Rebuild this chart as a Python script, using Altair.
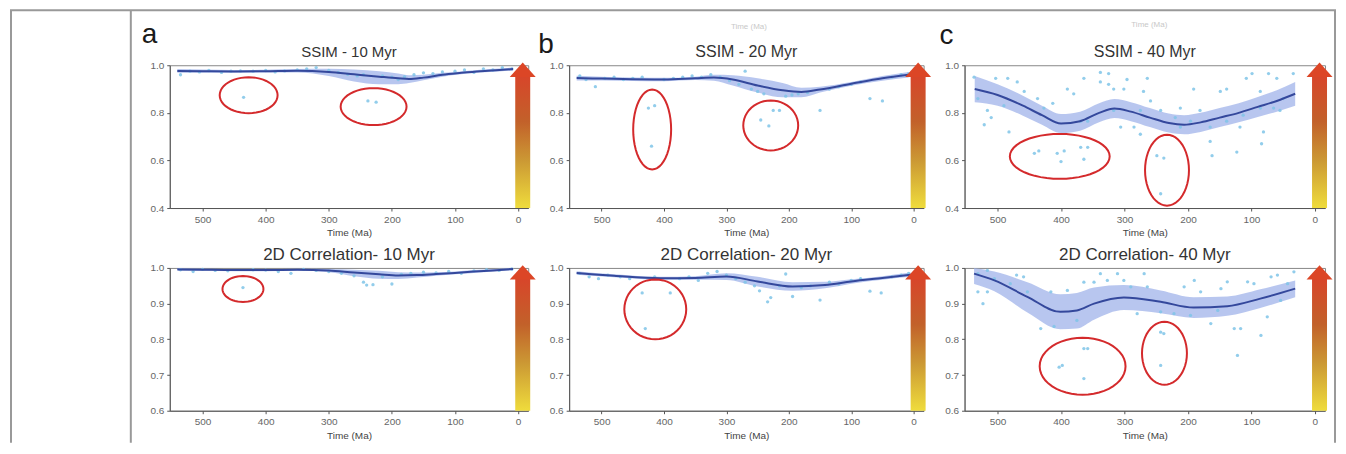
import math
import altair as alt
import pandas as pd

FONT = "Liberation Sans"
PT_COLOR = "#7fc4e8"
LINE_COLOR = "#34489c"
BAND_COLOR = "#9aaee8"
RED = "#d42a2c"

# ---------------- data ----------------
titles = ["SSIM - 10 Myr", "SSIM - 20 Myr", "SSIM - 40 Myr",
          "2D Correlation- 10 Myr", "2D Correlation- 20 Myr", "2D Correlation- 40 Myr"]
letters = ["a", "b", "c"]
x_ticks = [500, 400, 300, 200, 100, 0]
y_ticks_top = [0.4, 0.6, 0.8, 1.0]
y_ticks_bot = [0.6, 0.7, 0.8, 0.9, 1.0]

# panel a, SSIM 10 Myr
a1_t = [535, 520, 505, 490, 470, 455, 440, 435, 420, 400, 385, 370, 350, 335, 320, 300, 285, 270, 255,
        245, 238, 225, 215, 200, 190, 180, 165, 150, 135, 120, 100, 85, 70, 55, 40, 25, 10]
a1_v = [0.96, 0.975, 0.972, 0.978, 0.97, 0.975, 0.976, 0.865, 0.975, 0.978, 0.972, 0.976, 0.98, 0.985,
        0.99, 0.978, 0.97, 0.962, 0.955, 0.96, 0.85, 0.845, 0.955, 0.95, 0.94, 0.952, 0.96, 0.968, 0.965,
        0.972, 0.975, 0.98, 0.97, 0.985, 0.98, 0.99, 0.985]
a1_lt = [540, 500, 450, 400, 350, 300, 260, 220, 190, 173, 150, 120, 90, 60, 30, 8]
a1_lm = [0.976, 0.975, 0.974, 0.975, 0.977, 0.972, 0.962, 0.952, 0.945, 0.942, 0.948, 0.96, 0.968, 0.975, 0.98, 0.984]
a1_lo = [0.968, 0.968, 0.968, 0.969, 0.970, 0.955, 0.932, 0.92, 0.92, 0.925, 0.937, 0.952, 0.962, 0.969, 0.974, 0.977]
a1_hi = [0.984, 0.982, 0.98, 0.981, 0.984, 0.985, 0.982, 0.975, 0.965, 0.958, 0.96, 0.968, 0.974, 0.981, 0.986, 0.991]

# panel b, SSIM 20 Myr
b1_t = [535, 525, 510, 495, 480, 465, 450, 435, 425, 420, 415, 400, 385, 370, 355, 340, 325, 310, 295, 280,
        270, 260, 250, 245, 240, 232, 225, 215, 205, 195, 185, 170, 150, 135, 120, 100, 85, 70, 50, 35, 20, 8]
b1_v = [0.955, 0.94, 0.91, 0.945, 0.95, 0.94, 0.945, 0.95, 0.82, 0.66, 0.83, 0.94, 0.945, 0.95, 0.955, 0.95,
        0.96, 0.95, 0.935, 0.92, 0.975, 0.9, 0.89, 0.77, 0.88, 0.745, 0.81, 0.81, 0.87, 0.875, 0.88, 0.885,
        0.81, 0.9, 0.91, 0.92, 0.93, 0.86, 0.85, 0.95, 0.96, 0.965]
b1_lt = [540, 500, 450, 400, 350, 320, 290, 250, 210, 180, 150, 100, 50, 8]
b1_lm = [0.946, 0.944, 0.941, 0.94, 0.945, 0.948, 0.94, 0.915, 0.895, 0.888, 0.898, 0.922, 0.945, 0.96]
b1_lo = [0.936, 0.936, 0.934, 0.933, 0.938, 0.935, 0.915, 0.885, 0.865, 0.865, 0.885, 0.914, 0.935, 0.948]
b1_hi = [0.956, 0.952, 0.948, 0.947, 0.952, 0.96, 0.958, 0.945, 0.925, 0.905, 0.91, 0.93, 0.955, 0.972]

# panel c, SSIM 40 Myr
c1_t = [537, 503, 484, 469, 458, 521, 516, 531, 490, 427, 413, 390, 380, 364, 338, 338, 325, 317, 301, 296,
        325, 264, 270, 259, 275, 285, 243, 220, 212, 191, 181, 165, 162, 149, 139, 123, 118, 113, 108, 99,
        86, 81, 84, 65, 60, 73, 34, 50, 442, 435, 406, 400, 395, 369, 358, 364, 249, 238, 243,
        510, 482, 437, 369, 358, 317, 306, 275, 212, 196, 165, 139, 86, 55]
c1_v = [0.95, 0.945, 0.945, 0.93, 0.89, 0.75, 0.81, 0.86, 0.83, 0.82, 0.84, 0.9, 0.88, 0.945, 0.93, 0.97,
        0.92, 0.9, 0.9, 0.94, 0.965, 0.945, 0.89, 0.85, 0.81, 0.74, 0.81, 0.78, 0.82, 0.9, 0.81, 0.68, 0.62,
        0.89, 0.9, 0.635, 0.74, 0.79, 0.945, 0.965, 0.89, 0.72, 0.67, 0.82, 0.945, 0.965, 0.965, 0.86,
        0.63, 0.64, 0.63, 0.595, 0.64, 0.655, 0.655, 0.605, 0.62, 0.61, 0.46,
        0.78, 0.72, 0.86, 0.765, 0.765, 0.81, 0.74, 0.71, 0.74, 0.765, 0.74, 0.765, 0.82, 0.81]
c1_lt = [536, 500, 460, 430, 400, 370, 340, 316, 290, 260, 230, 206, 180, 150, 120, 90, 60, 31]
c1_lm = [0.90, 0.875, 0.83, 0.79, 0.755, 0.765, 0.80, 0.818, 0.805, 0.78, 0.757, 0.75, 0.76, 0.78, 0.80, 0.825, 0.85, 0.88]
c1_lo = [0.845, 0.83, 0.788, 0.75, 0.715, 0.725, 0.76, 0.778, 0.765, 0.74, 0.717, 0.71, 0.72, 0.74, 0.76, 0.783, 0.805, 0.83]
c1_hi = [0.955, 0.92, 0.872, 0.83, 0.795, 0.805, 0.84, 0.858, 0.845, 0.82, 0.797, 0.79, 0.80, 0.82, 0.84, 0.867, 0.895, 0.93]

# panel a, 2D correlation 10 Myr
a2_t = [535, 515, 500, 480, 460, 436, 420, 400, 380, 360, 340, 320, 300, 280, 260, 245, 240, 230, 215, 200,
        185, 170, 150, 130, 110, 90, 70, 50, 30, 10]
a2_v = [0.995, 0.99, 0.996, 0.993, 0.992, 0.945, 0.995, 0.994, 0.99, 0.985, 0.996, 0.993, 0.99, 0.985, 0.978,
        0.96, 0.952, 0.953, 0.975, 0.955, 0.982, 0.985, 0.988, 0.986, 0.99, 0.985, 0.992, 0.995, 0.993, 0.997]
a2_lt = [540, 500, 450, 400, 350, 300, 260, 220, 190, 160, 130, 100, 70, 40, 8]
a2_lm = [0.996, 0.995, 0.994, 0.994, 0.995, 0.993, 0.987, 0.982, 0.979, 0.98, 0.983, 0.986, 0.99, 0.993, 0.997]
a2_lo = [0.992, 0.992, 0.991, 0.991, 0.992, 0.988, 0.977, 0.97, 0.969, 0.973, 0.978, 0.982, 0.986, 0.99, 0.993]
a2_hi = [1.0, 0.998, 0.997, 0.997, 0.998, 0.997, 0.995, 0.992, 0.988, 0.987, 0.988, 0.99, 0.994, 0.997, 1.0]

# panel b, 2D correlation 20 Myr
b2_t = [535, 520, 505, 490, 470, 455, 435, 430, 415, 390, 375, 360, 345, 330, 315, 300, 285, 270, 255, 247,
        234, 229, 215, 205, 194, 180, 165, 150, 135, 120, 100, 85, 70, 52, 35, 20, 8]
b2_v = [0.985, 0.975, 0.97, 0.98, 0.975, 0.97, 0.93, 0.83, 0.975, 0.93, 0.97, 0.975, 0.965, 0.985, 0.99, 0.98,
        0.97, 0.96, 0.95, 0.936, 0.905, 0.917, 0.95, 0.983, 0.92, 0.945, 0.95, 0.91, 0.96, 0.955, 0.965, 0.97,
        0.935, 0.93, 0.975, 0.98, 0.985]
b2_lt = [540, 480, 406, 350, 300, 250, 194, 142, 100, 50, 5]
b2_lm = [0.986, 0.978, 0.971, 0.972, 0.976, 0.962, 0.948, 0.952, 0.962, 0.972, 0.981]
b2_lo = [0.981, 0.974, 0.967, 0.967, 0.966, 0.948, 0.936, 0.943, 0.956, 0.967, 0.975]
b2_hi = [0.991, 0.982, 0.975, 0.977, 0.985, 0.975, 0.96, 0.961, 0.968, 0.977, 0.987]

# panel c, 2D correlation 40 Myr
c2_t = [531, 516, 505, 531, 523, 516, 480, 470, 459, 453, 432, 416, 411, 390, 375, 364, 348, 338, 327, 311,
        301, 290, 280, 269, 264, 243, 222, 206, 196, 190, 180, 164, 153, 148, 138, 127, 122, 117, 106, 96,
        85, 75, 69, 59, 43, 33, 54, 403, 398, 364, 358, 364, 243, 238, 243]
c2_v = [0.984, 0.993, 0.97, 0.933, 0.9, 0.933, 0.956, 0.98, 0.975, 0.933, 0.83, 0.933, 0.836, 0.937, 0.853,
        0.96, 0.96, 0.984, 0.965, 0.984, 0.965, 0.947, 0.872, 0.984, 0.947, 0.877, 0.872, 0.947, 0.867, 0.965,
        0.933, 0.844, 0.881, 0.942, 0.961, 0.83, 0.755, 0.83, 0.961, 0.956, 0.811, 0.863, 0.975, 0.98, 0.956,
        0.989, 0.909, 0.722, 0.727, 0.774, 0.774, 0.69, 0.82, 0.816, 0.727]
c2_lt = [537, 505, 453, 401, 375, 348, 301, 243, 191, 138, 86, 31]
c2_lm = [0.984, 0.965, 0.919, 0.877, 0.881, 0.90, 0.917, 0.905, 0.889, 0.893, 0.914, 0.942]
c2_lo = [0.955, 0.935, 0.875, 0.828, 0.83, 0.855, 0.882, 0.873, 0.86, 0.866, 0.888, 0.918]
c2_hi = [1.0, 0.99, 0.96, 0.926, 0.93, 0.945, 0.952, 0.937, 0.918, 0.92, 0.94, 0.965]

# highlighted outlier groups (centre time, centre value) and their drawn size
ell_a1 = [(427, 0.874, 58, 36), (229, 0.826, 66, 37)]
ell_b1 = [(419, 0.73, 38, 80), (229, 0.747, 55, 50)]
ell_c1 = [(402, 0.617, 100, 45), (233, 0.559, 44, 71)]
ell_a2 = [(436, 0.941, 41, 26)]
ell_b2 = [(414, 0.884, 62, 60)]
ell_c2 = [(366, 0.7245, 86, 57), (237, 0.761, 45, 63)]

H = 143
WIDTHS = [359, 355, 361]


def ellipse_path(k):
    pts = []
    for i in range(48):
        th = 2 * math.pi * i / 48
        pts.append(f"{math.cos(th):.4f} {k * math.sin(th):.4f}")
    return "M " + " L ".join(pts) + " Z"


ONE = alt.Data(values=[{"d": 1}])


def panel(col, title, tsize, sc_t, sc_v, lt, lm, lo, hi, ydom, yvals, ells, letter=None, extra=None, frame=False):
    W = WIDTHS[col]
    xs = alt.Scale(domain=[552, -16], nice=False, zero=False)
    ys = alt.Scale(domain=ydom, nice=False, zero=False, clamp=True)
    xax = alt.Axis(values=x_ticks, format="d", title="Time (Ma)")
    yax = alt.Axis(values=yvals, format=".1f", title=None)
    ldf = pd.DataFrame({"t": lt, "m": lm, "lo": lo, "hi": hi})
    sdf = pd.DataFrame({"t": sc_t, "v": sc_v})

    band = alt.Chart(ldf).mark_area(color=BAND_COLOR, opacity=0.7, interpolate="monotone").encode(
        x=alt.X("t:Q", scale=xs, axis=xax),
        y=alt.Y("lo:Q", scale=ys, axis=yax),
        y2="hi:Q")
    pts = alt.Chart(sdf).mark_circle(color=PT_COLOR, size=11, opacity=0.85).encode(
        x=alt.X("t:Q", scale=xs, axis=xax),
        y=alt.Y("v:Q", scale=ys, axis=yax))
    line = alt.Chart(ldf).mark_line(color=LINE_COLOR, strokeWidth=2, interpolate="monotone").encode(
        x=alt.X("t:Q", scale=xs, axis=xax),
        y=alt.Y("m:Q", scale=ys, axis=yax))
    layers = [band, pts, line]

    for (et, ev, ew, eh) in ells:
        edf = pd.DataFrame({"t": [et], "v": [ev]})
        layers.append(alt.Chart(edf).mark_point(
            shape=ellipse_path(eh / ew), size=ew * ew, filled=False, stroke=RED,
            strokeWidth=2, opacity=1).encode(
            x=alt.X("t:Q", scale=xs, axis=xax),
            y=alt.Y("v:Q", scale=ys, axis=yax)))

    grad = alt.LinearGradient(
        gradient="linear",
        stops=[alt.GradientStop(color="#d8452a", offset=0),
               alt.GradientStop(color="#c2612a", offset=0.35),
               alt.GradientStop(color="#cc9a34", offset=0.65),
               alt.GradientStop(color="#efdc3c", offset=1)],
        x1=0, x2=0, y1=0, y2=1)
    layers.append(alt.Chart(ONE).mark_rect(fill=grad).encode(
        x=alt.value(W - 13), x2=alt.value(W + 2), y=alt.value(10), y2=alt.value(H)))
    layers.append(alt.Chart(ONE).mark_point(
        shape="M -1 0.55 L 0 -0.55 L 1 0.55 Z", filled=True, size=676,
        color="#dc4626", opacity=1).encode(x=alt.value(W - 5.5), y=alt.value(4.5)))

    # panel title
    layers.append(alt.Chart(ONE).mark_text(
        text=title, font=FONT, fontSize=tsize, color="#333333", align="center",
        baseline="middle").encode(x=alt.value(W / 2), y=alt.value(-13)))

    if letter is not None:
        lx, ly, ltxt = letter
        layers.append(alt.Chart(ONE).mark_text(
            text=ltxt, font=FONT, fontSize=28, color="#1a1a1a", align="left",
            baseline="alphabetic").encode(x=alt.value(lx), y=alt.value(ly)))
    if extra is not None:
        ex, ey, etxt = extra
        layers.append(alt.Chart(ONE).mark_text(
            text=etxt, font=FONT, fontSize=8, color="#c8c8c8", align="center",
            baseline="middle").encode(x=alt.value(ex), y=alt.value(ey)))
    if frame:
        FR = "#999999"
        layers.append(alt.Chart(ONE).mark_rule(color=FR, strokeWidth=2).encode(
            x=alt.value(-159), y=alt.value(-55), y2=alt.value(378)))
        layers.append(alt.Chart(ONE).mark_rule(color=FR, strokeWidth=2).encode(
            x=alt.value(-39), y=alt.value(-55), y2=alt.value(378)))
        layers.append(alt.Chart(ONE).mark_rule(color=FR, strokeWidth=2).encode(
            x=alt.value(1167), y=alt.value(-55), y2=alt.value(378)))
        layers.append(alt.Chart(ONE).mark_rule(color=FR, strokeWidth=2).encode(
            x=alt.value(-160), x2=alt.value(1168), y=alt.value(-55)))

    return alt.layer(*layers).properties(width=W, height=H)


p1 = panel(0, titles[0], 15, a1_t, a1_v, a1_lt, a1_lm, a1_lo, a1_hi, [0.4, 1.0], y_ticks_top, ell_a1,
           letter=(-28, -22, letters[0]), frame=True)
p2 = panel(1, titles[1], 16, b1_t, b1_v, b1_lt, b1_lm, b1_lo, b1_hi, [0.4, 1.0], y_ticks_top, ell_b1,
           letter=(-31, -12, letters[1]), extra=(180, -38, "Time (Ma)"))
p3 = panel(2, titles[2], 16, c1_t, c1_v, c1_lt, c1_lm, c1_lo, c1_hi, [0.4, 1.0], y_ticks_top, ell_c1,
           letter=(-25, -21, letters[2]), extra=(185, -40, "Time (Ma)"))
p4 = panel(0, titles[3], 17, a2_t, a2_v, a2_lt, a2_lm, a2_lo, a2_hi, [0.6, 1.0], y_ticks_bot, ell_a2)
p5 = panel(1, titles[4], 17, b2_t, b2_v, b2_lt, b2_lm, b2_lo, b2_hi, [0.6, 1.0], y_ticks_bot, ell_b2)
p6 = panel(2, titles[5], 17, c2_t, c2_v, c2_lt, c2_lm, c2_lo, c2_hi, [0.6, 1.0], y_ticks_bot, ell_c2)

chart = alt.concat(p1, p2, p3, p4, p5, p6, columns=3,
                   spacing={"row": 60, "column": 41}, bounds="flush", padding=0).configure_view(
    stroke="#888888", strokeWidth=1
).configure_axis(
    labelFont=FONT, labelFontSize=10, labelColor="#666666", tickColor="#555555",
    domainColor="#555555", tickSize=3, labelPadding=3, grid=False, labelFlush=False,
    titleFont=FONT, titleFontSize=10, titleFontWeight="normal", titleColor="#444444", titlePadding=4
)

chart.save("out.html", embed_options={"renderer": "svg", "actions": False})
